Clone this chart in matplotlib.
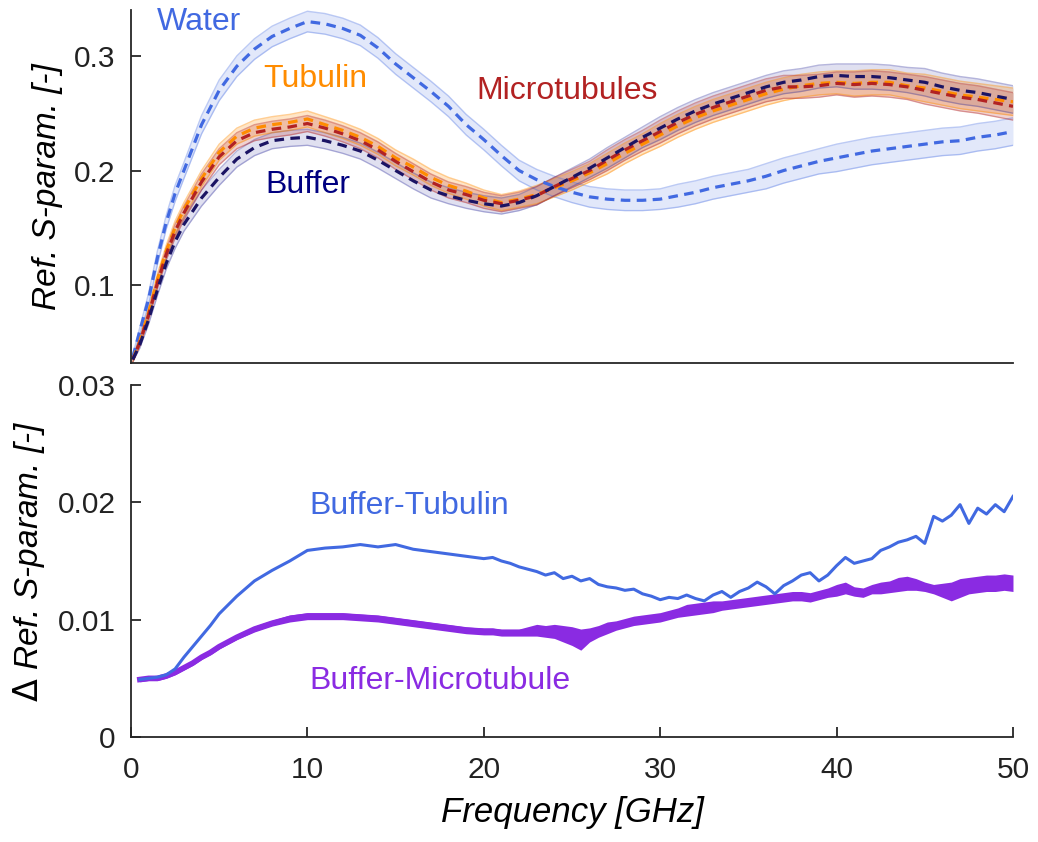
import numpy as np
import matplotlib
matplotlib.use('Agg')
import matplotlib.pyplot as plt

plt.rcParams['font.family'] = ['Liberation Sans', 'DejaVu Sans']

#### top panel: reflection S-parameter (mean +- spread)
freq_top = [0.1, 0.5, 1, 1.5, 2, 2.5, 3, 4, 5, 6, 7, 8, 9, 10, 11, 12, 13, 14, 15,
            16, 17, 18, 19, 20, 21, 22, 23, 24, 25, 26, 27, 28, 29, 30, 31, 32, 33,
            34, 35, 36, 37, 38, 39, 40, 41, 42, 43, 44, 45, 46, 47, 48, 49, 50]

water = [0.037, 0.060, 0.088, 0.124, 0.155, 0.180, 0.200, 0.240, 0.270, 0.291, 0.306,
         0.317, 0.324, 0.330, 0.328, 0.324, 0.318, 0.307, 0.293, 0.281, 0.269, 0.256,
         0.240, 0.227, 0.213, 0.200, 0.192, 0.186, 0.181, 0.177, 0.175, 0.174, 0.174,
         0.175, 0.178, 0.181, 0.185, 0.188, 0.191, 0.195, 0.200, 0.204, 0.208, 0.211,
         0.214, 0.217, 0.219, 0.221, 0.223, 0.225, 0.226, 0.229, 0.231, 0.234]
buffer = [0.035, 0.048, 0.070, 0.096, 0.119, 0.138, 0.153, 0.176, 0.194, 0.210, 0.220,
          0.226, 0.228, 0.229, 0.226, 0.222, 0.217, 0.209, 0.200, 0.191, 0.183, 0.178,
          0.174, 0.171, 0.169, 0.172, 0.178, 0.186, 0.194, 0.202, 0.211, 0.220, 0.229,
          0.237, 0.245, 0.252, 0.258, 0.263, 0.268, 0.273, 0.277, 0.279, 0.282, 0.283,
          0.282, 0.282, 0.281, 0.279, 0.277, 0.273, 0.270, 0.268, 0.265, 0.262]
tubulin = [0.035, 0.051, 0.076, 0.105, 0.130, 0.150, 0.166, 0.193, 0.216, 0.230, 0.237,
           0.240, 0.242, 0.245, 0.240, 0.235, 0.229, 0.221, 0.211, 0.203, 0.194, 0.187,
           0.182, 0.176, 0.172, 0.175, 0.179, 0.185, 0.191, 0.198, 0.206, 0.215, 0.223,
           0.231, 0.239, 0.246, 0.252, 0.257, 0.262, 0.267, 0.271, 0.274, 0.276, 0.277,
           0.276, 0.277, 0.277, 0.274, 0.272, 0.269, 0.266, 0.264, 0.262, 0.260]
microtub = [0.035, 0.050, 0.074, 0.102, 0.127, 0.147, 0.163, 0.190, 0.212, 0.226, 0.233,
            0.236, 0.238, 0.241, 0.237, 0.232, 0.226, 0.218, 0.208, 0.199, 0.190, 0.183,
            0.179, 0.174, 0.171, 0.174, 0.178, 0.186, 0.193, 0.200, 0.209, 0.218, 0.226,
            0.234, 0.242, 0.249, 0.255, 0.260, 0.265, 0.270, 0.273, 0.273, 0.274, 0.276,
            0.275, 0.276, 0.275, 0.273, 0.270, 0.267, 0.264, 0.262, 0.259, 0.256]
# half width of the shaded bands
hw_sample = [0.002, 0.003, 0.004, 0.005, 0.005, 0.006, 0.006, 0.007, 0.007, 0.007, 0.007,
             0.007, 0.007, 0.007, 0.007, 0.007, 0.007, 0.007, 0.007, 0.007, 0.007, 0.007,
             0.007, 0.007, 0.007, 0.007, 0.008, 0.008, 0.008, 0.008, 0.009, 0.009, 0.009,
             0.010, 0.010, 0.010, 0.010, 0.010, 0.010, 0.010, 0.010, 0.010, 0.010, 0.010,
             0.011, 0.011, 0.011, 0.011, 0.012, 0.012, 0.012, 0.012, 0.012, 0.012]
hw_water = [0.002, 0.003, 0.005, 0.006, 0.006, 0.007, 0.007, 0.008, 0.009, 0.009, 0.009,
            0.009, 0.009, 0.009, 0.009, 0.009, 0.009, 0.009, 0.009, 0.009, 0.009, 0.009,
            0.009, 0.009, 0.009, 0.009, 0.009, 0.009, 0.009, 0.009, 0.009, 0.009, 0.009,
            0.009, 0.010, 0.010, 0.010, 0.010, 0.010, 0.011, 0.011, 0.011, 0.011, 0.012,
            0.012, 0.012, 0.012, 0.012, 0.012, 0.012, 0.012, 0.012, 0.012, 0.012]

#### bottom panel: differences
freq_delta = [0.5, 1, 1.5, 2, 2.5, 3, 3.5, 4, 4.5, 5, 6, 7, 8, 9, 10, 11, 12, 13, 14, 15,
              16, 17, 18, 19, 20, 20.5, 21, 21.5, 22, 22.5, 23, 23.5, 24, 24.5, 25, 25.5,
              26, 26.5, 27, 27.5, 28, 28.5, 29, 29.5, 30, 30.5, 31, 31.5, 32, 32.5, 33,
              33.5, 34, 34.5, 35, 35.5, 36, 36.5, 37, 37.5, 38, 38.5, 39, 39.5, 40, 40.5,
              41, 41.5, 42, 42.5, 43, 43.5, 44, 44.5, 45, 45.5, 46, 46.5, 47, 47.5, 48,
              48.5, 49, 49.5, 50]
buf_tub = [0.0049, 0.0050, 0.0051, 0.0053, 0.0058, 0.0068, 0.0077, 0.0086, 0.0095, 0.0105,
           0.0120, 0.0133, 0.0142, 0.0150, 0.0159, 0.0161, 0.0162, 0.0164, 0.0162, 0.0164,
           0.0160, 0.0158, 0.0156, 0.0154, 0.0152, 0.0153, 0.0150, 0.0148, 0.0145, 0.0143,
           0.0141, 0.0138, 0.0140, 0.0135, 0.0137, 0.0133, 0.0135, 0.0130, 0.0128, 0.0127,
           0.0125, 0.0126, 0.0122, 0.0120, 0.0117, 0.0119, 0.0118, 0.0121, 0.0118, 0.0116,
           0.0121, 0.0124, 0.0119, 0.0124, 0.0127, 0.0132, 0.0128, 0.0122, 0.0129, 0.0133,
           0.0138, 0.0140, 0.0133, 0.0138, 0.0146, 0.0153, 0.0148, 0.0150, 0.0152, 0.0159,
           0.0162, 0.0166, 0.0168, 0.0171, 0.0165, 0.0188, 0.0184, 0.0189, 0.0198, 0.0182,
           0.0195, 0.0190, 0.0198, 0.0192, 0.0205]
buf_mt = [0.0049, 0.0050, 0.0050, 0.0052, 0.0055, 0.0059, 0.0063, 0.0068, 0.0072, 0.0077,
          0.0085, 0.0092, 0.0097, 0.0101, 0.0103, 0.0103, 0.0103, 0.0102, 0.0101, 0.0099,
          0.0097, 0.0095, 0.0093, 0.0091, 0.0090, 0.0090, 0.0089, 0.0089, 0.0089, 0.0090,
          0.0091, 0.0090, 0.0090, 0.0088, 0.0086, 0.0083, 0.0087, 0.0090, 0.0093, 0.0095,
          0.0097, 0.0099, 0.0100, 0.0101, 0.0102, 0.0104, 0.0106, 0.0108, 0.0109, 0.0110,
          0.0111, 0.0112, 0.0113, 0.0114, 0.0115, 0.0116, 0.0117, 0.0118, 0.0119, 0.0120,
          0.0120, 0.0119, 0.0121, 0.0123, 0.0125, 0.0127, 0.0124, 0.0123, 0.0126, 0.0127,
          0.0128, 0.0130, 0.0131, 0.0130, 0.0128, 0.0126, 0.0125, 0.0124, 0.0127, 0.0129,
          0.0130, 0.0131, 0.0131, 0.0132, 0.0131]
buf_mt_spread = [0.0002, 0.0002, 0.0002, 0.0002, 0.0002, 0.0002, 0.0002, 0.0002, 0.0002,
                 0.0002, 0.0002, 0.00025, 0.00025, 0.0003, 0.0003, 0.0003, 0.0003, 0.0003,
                 0.0003, 0.0003, 0.0003, 0.0003, 0.0003, 0.0003, 0.0003, 0.0003, 0.0003,
                 0.0003, 0.0003, 0.0004, 0.0005, 0.0005, 0.0006, 0.0007, 0.0008, 0.0009,
                 0.0006, 0.0005, 0.0005, 0.0004, 0.0004, 0.0004, 0.0004, 0.0004, 0.0004,
                 0.0004, 0.0004, 0.0005, 0.0005, 0.0005, 0.0005, 0.0004, 0.0004, 0.0004,
                 0.0004, 0.0004, 0.0004, 0.0004, 0.0004, 0.0004, 0.0004, 0.0004, 0.0004,
                 0.0004, 0.0005, 0.0005, 0.0004, 0.0004, 0.0004, 0.0005, 0.0005, 0.0006,
                 0.0006, 0.0005, 0.0004, 0.0004, 0.0006, 0.0008, 0.0008, 0.0007, 0.0007,
                 0.0007, 0.0007, 0.0007, 0.0007]

c_water = '#4169E1'
c_buffer = '#1B1464'
c_tub = '#FF8C00'
c_mt = '#B22222'
c_bmt = '#8A2BE2'
c_axis = '#262626'
fs = 23

fig = plt.figure(figsize=(10.38, 8.42), dpi=100)
ax1 = fig.add_axes([0.1262, 0.5689, 0.8497, 0.4191])
ax2 = fig.add_axes([0.1262, 0.1247, 0.8497, 0.4181])

f = np.array(freq_top)
hs = np.array(hw_sample)
hw = np.array(hw_water)

# bands
for y, h, col, a in [(water, hw, c_water, 0.15), (buffer, hs, '#2A2A9A', 0.14),
                     (tubulin, hs, c_tub, 0.22), (microtub, hs, c_mt, 0.2)]:
    y = np.array(y)
    ax1.fill_between(f, y - h, y + h, color=col, alpha=a, lw=0)
    ax1.plot(f, y - h, color=col, alpha=a + 0.2, lw=1)
    ax1.plot(f, y + h, color=col, alpha=a + 0.2, lw=1)

ax1.plot(f, water, color=c_water, lw=2.3, ls=(0, (3, 2)))
ax1.plot(f, tubulin, color=c_tub, lw=2.3, ls=(0, (3, 2)))
ax1.plot(f, microtub, color=c_mt, lw=2.3, ls=(1.5, (3, 2)))
ax1.plot(f, buffer, color=c_buffer, lw=2.3, ls=(0, (3, 2)))

ax1.text(1.45, 0.330, 'Water', color=c_water, fontsize=fs, va='center')
ax1.text(7.5, 0.280, 'Tubulin', color=c_tub, fontsize=fs, va='center')
ax1.text(19.6, 0.269, 'Microtubules', color=c_mt, fontsize=fs, va='center')
ax1.text(7.6, 0.187, 'Buffer', color='#000080', fontsize=fs, va='center')

ax1.set_xlim(0, 50)
ax1.set_ylim(0.032, 0.340)
ax1.set_yticks([0.1, 0.2, 0.3])
ax1.set_yticklabels(['0.1', '0.2', '0.3'])
ax1.set_xticks([])
ax1.set_ylabel('Ref. S-param. [-]', fontsize=fs + 1, style='italic', labelpad=8)

# bottom
fd = np.array(freq_delta)
bm = np.array(buf_mt)
sp = np.array(buf_mt_spread)
ax2.fill_between(fd, bm - sp, bm + sp, color=c_bmt, lw=0)
ax2.plot(fd, buf_mt, color=c_bmt, lw=4)
ax2.plot(fd, buf_tub, color=c_water, lw=2.2)

ax2.text(10.1, 0.0197, 'Buffer-Tubulin', color=c_water, fontsize=fs, va='center')
ax2.text(10.1, 0.0048, 'Buffer-Microtubule', color=c_bmt, fontsize=fs, va='center')

ax2.set_xlim(0, 50)
ax2.set_ylim(0, 0.03)
ax2.set_xticks([0, 10, 20, 30, 40, 50])
ax2.set_yticks([0, 0.01, 0.02, 0.03])
ax2.set_yticklabels(['0', '0.01', '0.02', '0.03'])
ax2.set_xlabel('Frequency [GHz]', fontsize=fs + 2, style='italic', labelpad=8)
ax2.set_ylabel('$\\Delta$ Ref. S-param. [-]', fontsize=fs + 1, style='italic', labelpad=8)

for ax in [ax1, ax2]:
    for s in ['top', 'right']:
        ax.spines[s].set_visible(False)
    for s in ['left', 'bottom']:
        ax.spines[s].set_color(c_axis)
        ax.spines[s].set_linewidth(1.3)
    ax.tick_params(direction='in', length=7, width=1.3, colors=c_axis,
                   labelsize=21.5, labelcolor='#222222')
    ax.tick_params(axis='y', pad=11)
    ax.tick_params(axis='x', pad=14)

fig.savefig('out.png', dpi=100)
